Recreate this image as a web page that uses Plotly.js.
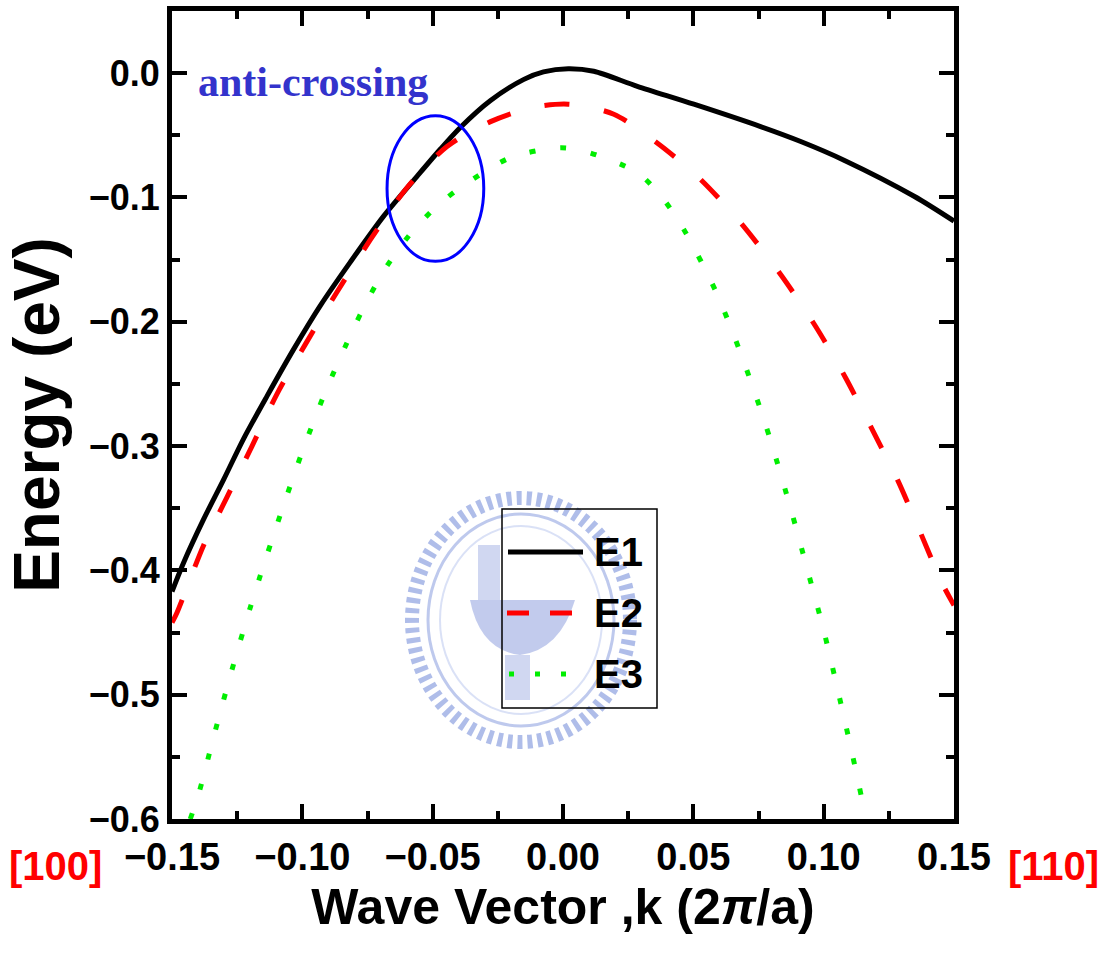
<!DOCTYPE html>
<html>
<head>
<meta charset="utf-8">
<script src="https://cdn.plot.ly/plotly-3.0.1.min.js"></script>
<style>html,body{margin:0;padding:0;background:#fff;}#chart{width:1108px;height:957px;}</style>
</head>
<body>
<div id="chart"></div>
<script>
// ---- data ----
const seriesNames = ["E1", "E2", "E3"];

const kE1 = [-0.150, -0.1456, -0.1379, -0.1302, -0.1225, -0.1136, -0.1033, -0.0931, -0.0816, -0.0688, -0.056, -0.047, -0.0393, -0.0278, -0.015, -0.0075, 0.002, 0.0118, 0.0285, 0.0502, 0.0758, 0.0912, 0.1078, 0.1347, 0.150];
const E1   = [-0.417, -0.394, -0.359, -0.327, -0.294, -0.260, -0.222, -0.187, -0.152, -0.115, -0.083, -0.061, -0.0435, -0.022, -0.005, 0.001, 0.0035, 0.0015, -0.0106, -0.025, -0.043, -0.055, -0.070, -0.099, -0.119];

const kE2 = [-0.150, -0.1481, -0.1379, -0.1289, -0.1193, -0.1097, -0.0988, -0.0867, -0.0739, -0.0598, -0.0445, -0.0278, -0.0125, 0.002, 0.0195, 0.036, 0.052, 0.068, 0.0835, 0.097, 0.1084, 0.1187, 0.1283, 0.1372, 0.1456, 0.150];
const E2   = [-0.442, -0.434, -0.380, -0.341, -0.300, -0.258, -0.218, -0.176, -0.134, -0.092, -0.059, -0.039, -0.028, -0.025, -0.033, -0.056, -0.084, -0.120, -0.162, -0.204, -0.245, -0.287, -0.327, -0.370, -0.411, -0.428];

const kE3 = [-0.143, -0.1398, -0.1334, -0.127, -0.120, -0.1161, -0.1084, -0.1001, -0.0911, -0.0805, -0.0746, -0.0675, -0.0592, -0.0489, -0.0393, -0.0202, -0.001, 0.0086, 0.0285, 0.038, 0.0464, 0.0585, 0.0681, 0.0765, 0.0803, 0.0873, 0.0937, 0.1001, 0.1056, 0.1111, 0.1161];
const E3   = [-0.600, -0.580, -0.529, -0.480, -0.430, -0.404, -0.355, -0.305, -0.256, -0.206, -0.181, -0.155, -0.131, -0.108, -0.092, -0.068, -0.060, -0.063, -0.080, -0.100, -0.126, -0.175, -0.225, -0.275, -0.300, -0.350, -0.399, -0.449, -0.498, -0.549, -0.598];

const xTickVals = [-0.15, -0.10, -0.05, 0.00, 0.05, 0.10, 0.15];
const yTickVals = [0.0, -0.1, -0.2, -0.3, -0.4, -0.5, -0.6];
const xRange = [-0.15, 0.15];
const yRange = [-0.6, 0.05];
// anti-crossing marker (k range, E range)
const circleK = [-0.0675, -0.0304];
const circleE = [-0.1514, -0.0342];

// ---- styles ----
const FONT = "Liberation Sans, Arial, Helvetica, sans-serif";
const colors = ["#000000", "#ff0000", "#00ee00"];
const dashes = ["solid", "25px,35px", "6px,25px"];

const traces = [
  {x: kE1, y: E1, name: seriesNames[0]},
  {x: kE2, y: E2, name: seriesNames[1]},
  {x: kE3, y: E3, name: seriesNames[2]}
].map((t, i) => Object.assign(t, {
  type: "scatter", mode: "lines", showlegend: false,
  line: {color: colors[i], width: 5, dash: dashes[i], shape: "spline", smoothing: 0.8}
}));

// legend drawn as paper shapes / annotations
const px = v => (v - 172) / 782;
const py = v => (819 - v) / 808;
const legRows = [552, 613, 674];
const legLine = [[508, 583], [507, 573], [509, 566]];
const legDash = ["solid", "22px,21px", "5px,21px"];

const shapes = [
  // watermark (approximate emblem)
  {type: "circle", xref: "paper", yref: "paper", layer: "below",
   x0: px(412), x1: px(630), y0: py(742), y1: py(498),
   line: {color: "rgba(110,135,215,0.55)", width: 14, dash: "5px,5px"}},
  {type: "circle", xref: "paper", yref: "paper", layer: "below",
   x0: px(428), x1: px(614), y0: py(726), y1: py(514),
   line: {color: "rgba(110,135,215,0.45)", width: 3}},
  {type: "circle", xref: "paper", yref: "paper", layer: "below",
   x0: px(440), x1: px(602), y0: py(714), y1: py(526),
   line: {color: "rgba(150,170,230,0.35)", width: 2}},
  {type: "path", xref: "paper", yref: "paper", layer: "below",
   path: `M ${px(470)} ${py(600)} L ${px(575)} ${py(600)} Q ${px(560)} ${py(650)} ${px(520)} ${py(655)} Q ${px(480)} ${py(650)} ${px(470)} ${py(600)} Z`,
   fillcolor: "rgba(120,140,215,0.45)", line: {width: 0}},
  {type: "rect", xref: "paper", yref: "paper", layer: "below",
   x0: px(478), x1: px(500), y0: py(600), y1: py(545),
   fillcolor: "rgba(120,140,215,0.35)", line: {width: 0}},
  {type: "rect", xref: "paper", yref: "paper", layer: "below",
   x0: px(505), x1: px(530), y0: py(700), y1: py(655),
   fillcolor: "rgba(120,140,215,0.35)", line: {width: 0}},
  // anti-crossing circle
  {type: "circle", xref: "x", yref: "y",
   x0: circleK[0], x1: circleK[1], y0: circleE[0], y1: circleE[1],
   line: {color: "#0000ff", width: 3}},
  // legend box
  {type: "rect", xref: "paper", yref: "paper",
   x0: px(502), x1: px(657), y0: py(708), y1: py(509),
   fillcolor: "rgba(255,255,255,0)", line: {color: "#000", width: 1.5}}
];
legRows.forEach((r, i) => {
  shapes.push({type: "line", xref: "paper", yref: "paper",
    x0: px(legLine[i][0]), x1: px(legLine[i][1]), y0: py(r), y1: py(r),
    line: {color: colors[i], width: 5, dash: legDash[i]}});
});

const annotations = [
  {xref: "paper", yref: "paper", x: px(196), y: py(82), xanchor: "left", yanchor: "middle",
   text: "anti-crossing", showarrow: false,
   font: {family: "Liberation Serif, Times New Roman, serif", size: 42, color: "#3333cc", weight: 700}},
  {xref: "paper", yref: "paper", x: px(55), y: py(866), xanchor: "center", yanchor: "middle",
   text: "[100]", showarrow: false, font: {family: FONT, size: 40, color: "#ff0000", weight: 700}},
  {xref: "paper", yref: "paper", x: px(1053), y: py(866), xanchor: "center", yanchor: "middle",
   text: "[110]", showarrow: false, font: {family: FONT, size: 40, color: "#ff0000", weight: 700}}
];
legRows.forEach((r, i) => {
  annotations.push({xref: "paper", yref: "paper", x: px(592), y: py(r), xanchor: "left", yanchor: "middle",
    text: seriesNames[i], showarrow: false, font: {family: FONT, size: 40, color: "#000", weight: 700}});
});

const axisCommon = {
  showline: true, linecolor: "#000", linewidth: 5, mirror: "allticks",
  ticks: "inside", ticklen: 15, tickwidth: 4, tickcolor: "#000",
  showgrid: false, zeroline: false,
  tickfont: {family: FONT, size: 36, color: "#000", weight: 700},
  fixedrange: true
};

const layout = {
  width: 1108, height: 957,
  margin: {l: 172, r: 154, t: 11, b: 138, pad: 0},
  paper_bgcolor: "#fff", plot_bgcolor: "#fff",
  font: {family: FONT, color: "#000"},
  showlegend: false,
  xaxis: Object.assign({}, axisCommon, {
    range: xRange, tickvals: xTickVals, tickformat: ".2f",
    tickfont: {family: FONT, size: 38, color: "#000", weight: 700},
    minor: {dtick: 0.025, ticks: "inside", ticklen: 8, tickwidth: 4, tickcolor: "#000"},
    title: {text: "Wave Vector ,k (2<i>π</i>/a)", standoff: 14,
            font: {family: FONT, size: 50, color: "#000", weight: 700}}
  }),
  yaxis: Object.assign({}, axisCommon, {
    range: yRange, tickvals: yTickVals, tickformat: ".1f",
    minor: {dtick: 0.05, ticks: "inside", ticklen: 8, tickwidth: 4, tickcolor: "#000"},
    title: {text: "Energy (eV)", standoff: 10,
            font: {family: FONT, size: 64, color: "#000", weight: 700}}
  }),
  shapes: shapes,
  annotations: annotations
};

Plotly.newPlot("chart", traces, layout, {displayModeBar: false, staticPlot: true});
</script>
</body>
</html>
